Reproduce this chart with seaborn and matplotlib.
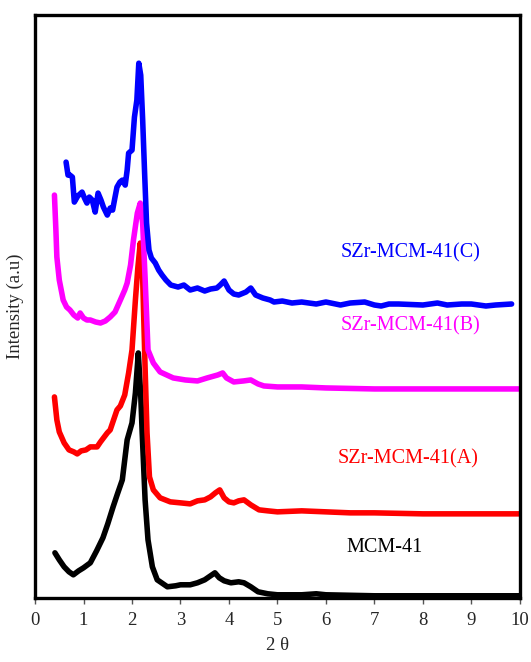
import matplotlib
matplotlib.use("Agg")
import matplotlib.pyplot as plt
import numpy as np
import pandas as pd
import seaborn as sns

# XRD patterns (2 theta, intensity in arbitrary units)
mcm_x = [0.41, 0.5, 0.6, 0.7, 0.79, 0.9, 1.0, 1.14, 1.27, 1.4, 1.5, 1.61, 1.7, 1.8, 1.9,
         2.0, 2.07, 2.13, 2.18, 2.21, 2.27, 2.33, 2.42, 2.52, 2.73, 2.9, 3.0, 3.2, 3.35, 3.5,
         3.62, 3.71, 3.8, 3.9, 4.04, 4.2, 4.31, 4.45, 4.6, 4.8, 5.0, 5.5, 5.8, 6.0, 7.0, 8.0,
         9.0, 10.0]
mcm_y = [45, 38, 31, 26, 23, 27, 30, 35, 47, 60, 74, 91, 104, 118, 158,
         175, 205, 245, 203, 165, 98, 58, 31, 18, 11, 12, 13, 13, 15, 18,
         22, 25, 20, 17, 15, 16, 15, 11, 6, 4, 3, 3, 4, 3, 2, 2,
         2, 2]

a_x = [0.40, 0.45, 0.5, 0.6, 0.7, 0.8, 0.87, 0.95, 1.05, 1.14, 1.28, 1.35, 1.49, 1.55, 1.69,
       1.76, 1.85, 1.93, 2.0, 2.07, 2.12, 2.17, 2.22, 2.27, 2.31, 2.36, 2.44, 2.58, 2.79, 3.0,
       3.2, 3.35, 3.5, 3.62, 3.72, 3.81, 3.9, 4.0, 4.1, 4.2, 4.31, 4.45, 4.62, 4.8, 5.0, 5.5,
       6.0, 6.5, 7.0, 8.0, 9.0, 10.0]
a_y = [201, 178, 166, 155, 148, 146, 144, 147, 148, 151, 151, 156, 165, 168, 188,
       192, 203, 225, 248, 298, 330, 355, 320, 230, 165, 121, 108, 100, 96, 95,
       94, 97, 98, 101, 105, 108, 100, 96, 95, 97, 98, 93, 88, 87, 86, 87,
       86, 85, 85, 84, 84, 84]

b_x = [0.40, 0.43, 0.45, 0.5, 0.58, 0.65, 0.72, 0.8, 0.88, 0.93, 1.0, 1.07, 1.14, 1.25, 1.35,
       1.45, 1.55, 1.65, 1.76, 1.85, 1.9, 1.97, 2.03, 2.11, 2.17, 2.22, 2.27, 2.33, 2.44,
       2.58, 2.85, 3.1, 3.35, 3.55, 3.77, 3.87, 3.95, 4.1, 4.3, 4.45, 4.6, 4.72, 5.0,
       5.5, 6.0, 7.0, 8.0, 9.0, 10.0]
b_y = [403, 368, 341, 318, 298, 291, 288, 283, 280, 285, 280, 278, 278, 276, 275,
       277, 281, 286, 298, 308, 315, 333, 358, 385, 395, 375, 320, 248, 235,
       226, 220, 218, 217, 220, 223, 225, 220, 216, 217, 218, 214, 212, 211,
       211, 210, 209, 209, 209, 209]

c_x = [0.64, 0.68, 0.72, 0.77, 0.81, 0.88, 0.97, 1.02, 1.07, 1.12, 1.18, 1.24, 1.3, 1.36,
       1.41, 1.49, 1.55, 1.6, 1.65, 1.69, 1.75, 1.8, 1.86, 1.9, 1.93, 2.0, 2.05, 2.1, 2.14,
       2.18, 2.22, 2.26, 2.3, 2.35, 2.4, 2.48, 2.55, 2.62, 2.7, 2.8, 2.95, 3.07, 3.2, 3.35,
       3.5, 3.62, 3.75, 3.82, 3.9, 4.0, 4.1, 4.2, 4.35, 4.45, 4.55, 4.7, 4.85, 4.93, 5.1,
       5.3, 5.5, 5.8, 6.0, 6.3, 6.5, 6.8, 7.0, 7.14, 7.3, 7.5, 8.0, 8.3, 8.5, 8.8, 9.0,
       9.3, 9.5, 9.83]
c_y = [436, 423, 423, 421, 396, 402, 406, 400, 395, 401, 398, 386, 405, 398,
       391, 383, 390, 388, 401, 411, 416, 418, 413, 428, 445, 448, 481, 498, 535,
       523, 478, 425, 375, 348, 340, 335, 328, 323, 318, 313, 311, 313, 308, 310,
       307, 309, 310, 313, 317, 308, 304, 303, 306, 310, 303, 300, 298, 296, 297,
       295, 296, 294, 296, 293, 295, 296, 293, 292, 294, 294, 293, 295, 293, 294, 294,
       292, 293, 294]

names = ["MCM-41", "SZr-MCM-41(A)", "SZr-MCM-41(B)", "SZr-MCM-41(C)"]
colors = ["black", "red", "#ff00ff", "blue"]
label_x = [7.2, 7.7, 7.75, 7.75]
label_y = [50, 139, 272, 345]

df = pd.concat([
    pd.DataFrame({"x": mcm_x, "y": mcm_y, "s": names[0]}),
    pd.DataFrame({"x": a_x, "y": a_y, "s": names[1]}),
    pd.DataFrame({"x": b_x, "y": b_y, "s": names[2]}),
    pd.DataFrame({"x": c_x, "y": c_y, "s": names[3]}),
])

sns.set_style("white")
plt.rcParams["font.family"] = ["Liberation Serif", "DejaVu Serif"]

fig = plt.figure(figsize=(5.31, 6.62), dpi=100)
ax = fig.add_axes([0.066, 0.097, 0.913, 0.88])

sns.lineplot(data=df, x="x", y="y", hue="s", palette=dict(zip(names, colors)),
             sort=False, estimator=None, linewidth=4, legend=False, ax=ax)

for n, c, tx, ty in zip(names, colors, label_x, label_y):
    ax.text(tx, ty, n, color=c, fontsize=14.5, ha="center", va="center")

ax.set_xlim(0, 10)
ax.set_ylim(0, 583)
ax.set_xticks(range(0, 11))
ax.set_yticks([])
ax.tick_params(axis="x", direction="out", length=4, width=1, color="#555555",
               labelsize=13.5, pad=6, bottom=True)
for sp in ax.spines.values():
    sp.set_color("black")
    sp.set_linewidth(2.4)
ax.set_xlabel("2 θ", fontsize=13.5, labelpad=6)
ax.set_ylabel("Intensity (a.u)", fontsize=13.5, labelpad=8)

fig.savefig("out.png", dpi=100)
